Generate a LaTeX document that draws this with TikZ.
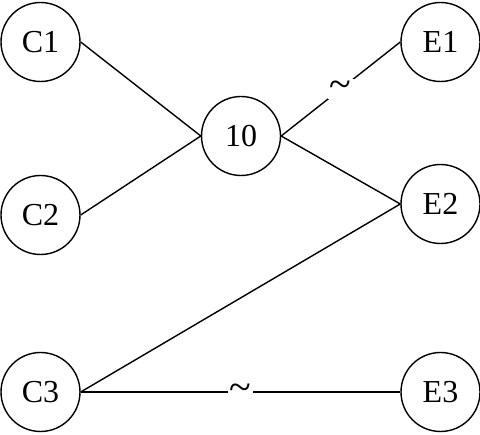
\documentclass[tikz,border=0pt]{standalone}
\usepackage{fontspec}
\setmainfont{Liberation Serif}
\begin{document}
\begin{tikzpicture}[x=1pt,y=-1pt,
  vertex/.style={circle,draw,line width=1.4pt,inner sep=0pt,minimum size=79pt,font=\fontsize{32}{38}\selectfont},
  edge/.style={line width=1.4pt},
  tilde/.style={fill=white,inner sep=2pt,font=\fontsize{40}{46}\selectfont}]
\useasboundingbox (0,0) rectangle (480,435);
\node[vertex] (C1) at (40.5,42) {C1};
\node[vertex] (C2) at (40.5,215) {C2};
\node[vertex] (C3) at (40.5,392) {C3};
\node[vertex] (T) at (241,136) {10};
\node[vertex] (E1) at (440.5,42) {E1};
\node[vertex] (E2) at (440.5,204) {E2};
\node[vertex] (E3) at (440.5,392) {E3};
\draw[edge] (C1.east) -- (T.west);
\draw[edge] (C2.east) -- (T.west);
\draw[edge] (T.east) -- node[tilde] {\textasciitilde} (E1.west);
\draw[edge] (T.east) -- (E2.west);
\draw[edge] (C3.east) -- (E2.west);
\draw[edge] (C3.east) -- node[tilde] {\textasciitilde} (E3.west);
\end{tikzpicture}
\end{document}
